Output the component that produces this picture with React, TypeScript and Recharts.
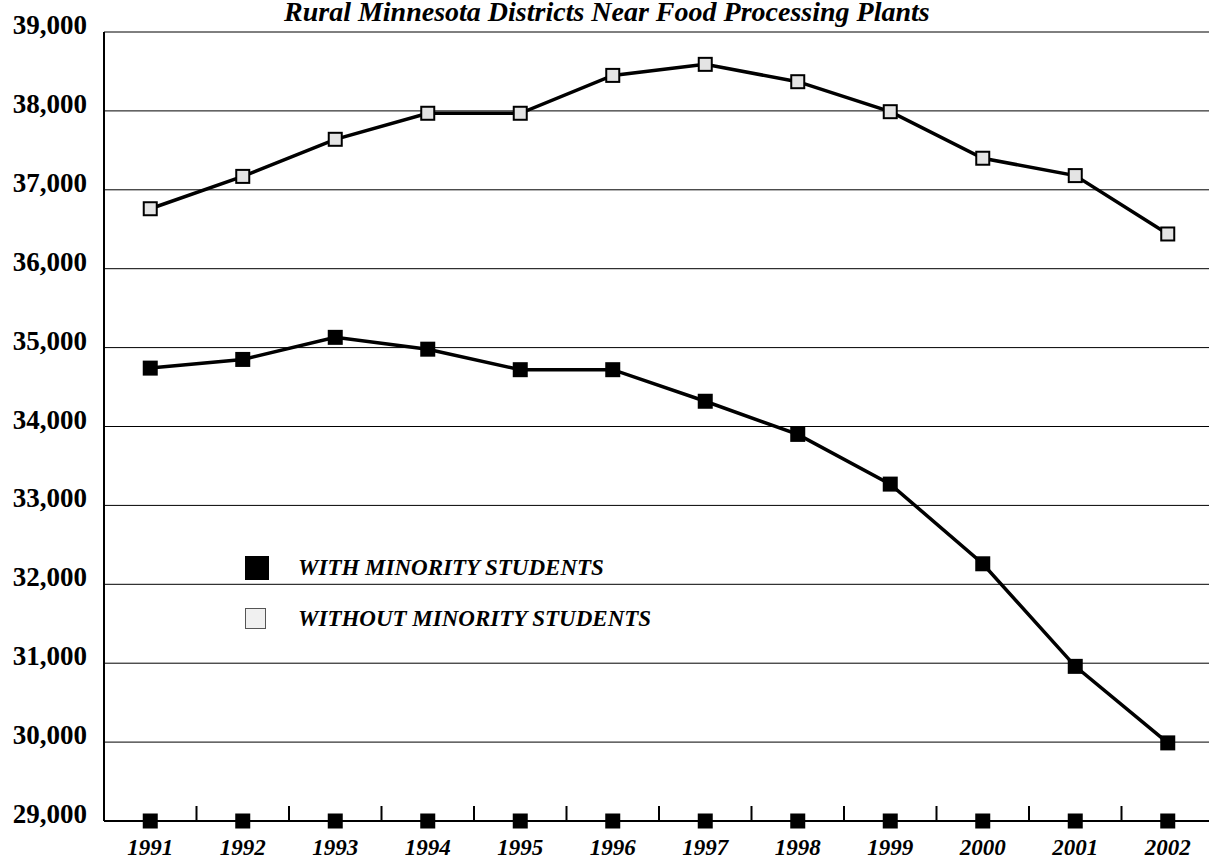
import React from 'react';
import { LineChart, Line, XAxis, YAxis, CartesianGrid, Legend } from 'recharts';

const years = ['1991', '1992', '1993', '1994', '1995', '1996', '1997', '1998', '1999', '2000', '2001', '2002'];
const withMinority = [34740, 34850, 35130, 34980, 34720, 34720, 34320, 33900, 33270, 32260, 30960, 29990];
const withoutMinority = [36760, 37170, 37640, 37970, 37970, 38450, 38590, 38370, 37990, 37400, 37180, 36440];
const baselineMarks = [29000, 29000, 29000, 29000, 29000, 29000, 29000, 29000, 29000, 29000, 29000, 29000];
const yTicks = [29000, 30000, 31000, 32000, 33000, 34000, 35000, 36000, 37000, 38000, 39000];

const title = 'Rural Minnesota Districts Near Food Processing Plants';
const serif = '"Liberation Serif", "Times New Roman", serif';

const data = years.map((year, i) => ({
  year,
  withMinority: withMinority[i],
  withoutMinority: withoutMinority[i],
  baseline: baselineMarks[i],
}));

const fmt = (v: number) => v.toLocaleString('en-US');

function FilledSquare(props: any) {
  const { cx, cy, index } = props;
  if (cx == null || cy == null) return <g key={`f-${index}`} />;
  return <rect key={`f-${index}`} x={cx - 7.5} y={cy - 7.5} width={15} height={15} fill="#000" />;
}

function OpenSquare(props: any) {
  const { cx, cy, index } = props;
  if (cx == null || cy == null) return <g key={`o-${index}`} />;
  return <rect key={`o-${index}`} x={cx - 6.5} y={cy - 6.5} width={13} height={13} fill="#e4e4e4" stroke="#000" strokeWidth={2} />;
}

function BaseSquare(props: any) {
  const { cx, cy, index } = props;
  if (cx == null || cy == null) return <g key={`b-${index}`} />;
  return <rect key={`b-${index}`} x={cx - 7.5} y={cy - 7.5} width={15} height={15} fill="#000" />;
}

// year label plus a short upward tick at the band boundary
function YearTick(props: any) {
  const { x, y, payload } = props;
  const half = payload && payload.offset ? payload.offset : 0;
  return (
    <g>
      <text
        x={x}
        y={y + 34}
        textAnchor="middle"
        fontFamily={serif}
        fontSize={23}
        fontWeight="bold"
        fontStyle="italic"
        fill="#000"
      >
        {payload.value}
      </text>
      {half > 0 && <line x1={x + half} x2={x + half} y1={y} y2={y - 15} stroke="#000" strokeWidth={2} />}
    </g>
  );
}

function ValueTick(props: any) {
  const { x, y, payload } = props;
  return (
    <text x={x} y={y + 2} textAnchor="end" fontFamily={serif} fontSize={27} fontWeight="bold" fill="#000">
      {fmt(payload.value)}
    </text>
  );
}

function LegendBox(props: any) {
  const items = (props.payload || []).filter((p: any) => p.dataKey !== 'baseline');
  return (
    <div>
      {items.map((entry: any) => {
        const filled = entry.dataKey === 'withMinority';
        return (
          <div key={entry.dataKey} style={{ display: 'flex', alignItems: 'center', height: 51 }}>
            <div
              style={{
                width: filled ? 24 : 21,
                height: filled ? 24 : 21,
                boxSizing: 'border-box',
                background: filled ? '#000' : '#f0f0f0',
                border: filled ? 'none' : '1.5px solid #555',
                marginRight: filled ? 29 : 32,
              }}
            />
            <span
              style={{
                fontFamily: serif,
                fontSize: 23,
                fontWeight: 'bold',
                fontStyle: 'italic',
                color: '#000',
                whiteSpace: 'nowrap',
              }}
            >
              {entry.value}
            </span>
          </div>
        );
      })}
    </div>
  );
}

export default function App() {
  return (
    <div style={{ position: 'absolute', left: 0, top: 0, width: 1209, height: 868, overflow: 'hidden', background: '#fff' }}>
      <div
        style={{
          position: 'absolute',
          left: 284,
          top: 0,
          fontFamily: serif,
          fontSize: 28,
          lineHeight: '24px',
          fontWeight: 'bold',
          fontStyle: 'italic',
          whiteSpace: 'nowrap',
          color: '#000',
        }}
      >
        {title}
      </div>
      <LineChart width={1220} height={868} data={data} margin={{ top: 32, right: 6, left: 0, bottom: 0 }}>
        <CartesianGrid vertical={false} stroke="#000" strokeWidth={1} />
        <XAxis
          dataKey="year"
          scale="band"
          height={47}
          tickSize={0}
          tickMargin={0}
          interval={0}
          axisLine={{ stroke: '#000', strokeWidth: 2 }}
          tick={<YearTick />}
        />
        <YAxis
          width={104}
          domain={[29000, 39000]}
          ticks={yTicks}
          tickSize={0}
          tickMargin={17}
          interval={0}
          axisLine={{ stroke: '#000', strokeWidth: 2 }}
          tick={<ValueTick />}
        />
        <Legend
          layout="vertical"
          align="center"
          verticalAlign="middle"
          content={<LegendBox />}
          wrapperStyle={{ position: 'absolute', left: 245, top: 542, width: 'auto' }}
        />
        <Line
          dataKey="withMinority"
          name="WITH MINORITY STUDENTS"
          stroke="#000"
          strokeWidth={3.5}
          dot={FilledSquare}
          activeDot={false}
          isAnimationActive={false}
        />
        <Line
          dataKey="withoutMinority"
          name="WITHOUT MINORITY STUDENTS"
          stroke="#000"
          strokeWidth={3.5}
          dot={OpenSquare}
          activeDot={false}
          isAnimationActive={false}
        />
        <Line
          dataKey="baseline"
          legendType="none"
          stroke="none"
          dot={BaseSquare}
          activeDot={false}
          isAnimationActive={false}
        />
      </LineChart>
    </div>
  );
}
